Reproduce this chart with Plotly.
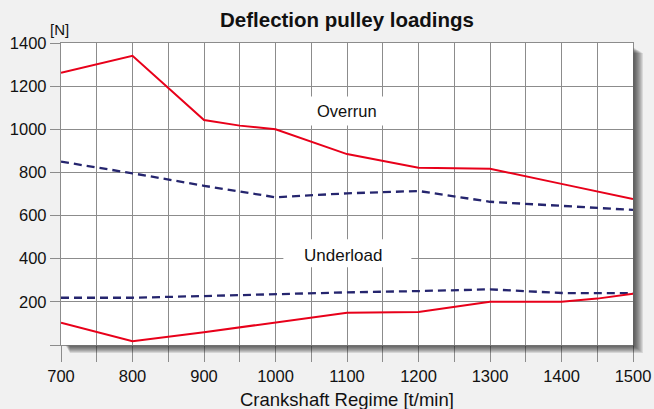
import plotly.graph_objects as go

# Data
overrun_x = [700, 800, 900, 950, 1000, 1100, 1200, 1300, 1400, 1500]
overrun_red = [1262, 1341, 1043, 1017, 1000, 885, 822, 817, 747, 677]
overrun_dash_x = [700, 800, 900, 1000, 1100, 1200, 1300, 1400, 1500]
overrun_dash = [850, 796, 738, 685, 703, 714, 664, 644, 626]
under_dash_x = [700, 800, 900, 1000, 1100, 1200, 1300, 1400, 1500]
under_dash = [219, 219, 227, 236, 244, 250, 258, 241, 240]
under_red_x = [700, 800, 900, 1000, 1100, 1200, 1300, 1400, 1450, 1500]
under_red = [103, 17, 59, 105, 150, 153, 201, 201, 215, 238]

x_ticks = list(range(700, 1501, 50))
x_labels = [str(v) if v % 100 == 0 else "" for v in x_ticks]
y_ticks = list(range(0, 1401, 200))
y_labels = ["" if v == 0 else str(v) for v in y_ticks]

RED = "#e8001a"
NAVY = "#25256e"
GRID = "#8c8c8c"
FONT = "Liberation Sans, Arial, sans-serif"

fig = go.Figure()
fig.add_trace(go.Scatter(x=overrun_x, y=overrun_red, mode="lines",
                         line=dict(color=RED, width=2), showlegend=False))
fig.add_trace(go.Scatter(x=overrun_dash_x, y=overrun_dash, mode="lines",
                         line=dict(color=NAVY, width=2.3, dash="8px,5px"), showlegend=False))
fig.add_trace(go.Scatter(x=under_dash_x, y=under_dash, mode="lines",
                         line=dict(color=NAVY, width=2.3, dash="8px,5px"), showlegend=False))
fig.add_trace(go.Scatter(x=under_red_x, y=under_red, mode="lines",
                         line=dict(color=RED, width=2), showlegend=False))

# plot area in pixels: x 61..633 (572 px), y 43..345 (302 px)
PW, PH = 572.0, 302.0
shapes = []
# drop shadow built from stacked translucent rectangles (darkest near edge)
for k in range(1, 11):
    shapes.append(dict(type="rect", xref="paper", yref="paper",
                       x0=1.0 + 0.7 / PW, x1=1.0 + k / PW,
                       y0=-(k * 0.8) / PH, y1=1.0 - (4 + k * 0.6) / PH,
                       fillcolor="rgba(30,30,30,0.11)", line=dict(width=0), layer="above"))
for k in range(1, 9):
    shapes.append(dict(type="rect", xref="paper", yref="paper",
                       x0=(4 + k * 0.6) / PW, x1=1.0 + 0.7 / PW,
                       y0=-k / PH, y1=-0.7 / PH,
                       fillcolor="rgba(30,30,30,0.13)", line=dict(width=0), layer="above"))
# white label boxes over gridlines
shapes.append(dict(type="rect", xref="x", yref="y", x0=1046, x1=1152, y0=1018, y1=1152,
                   fillcolor="white", line=dict(width=0), layer="between"))
shapes.append(dict(type="rect", xref="x", yref="y", x0=1011, x1=1190, y0=360, y1=490,
                   fillcolor="white", line=dict(width=0), layer="between"))

annotations = [
    dict(x=1100, y=1085, xref="x", yref="y", text="Overrun", showarrow=False,
         font=dict(size=16.5, color="#111", family=FONT)),
    dict(x=1094, y=413, xref="x", yref="y", text="Underload", showarrow=False,
         font=dict(size=17, color="#111", family=FONT)),
    dict(x=-2 / PW, y=1.0 + 13 / PH, xref="paper", yref="paper", text="[N]", showarrow=False,
         xanchor="center", yanchor="middle",
         font=dict(size=15, color="#111", family=FONT)),
    dict(x=0.5, y=1.0 + 23 / PH, xref="paper", yref="paper", text="<b>Deflection pulley loadings</b>",
         showarrow=False, xanchor="center", yanchor="middle",
         font=dict(size=20.5, color="#111", family=FONT)),
    dict(x=0.5, y=-54 / PH, xref="paper", yref="paper", text="Crankshaft Regime [t/min]",
         showarrow=False, xanchor="center", yanchor="middle",
         font=dict(size=18.5, color="#111", family=FONT)),
]

fig.update_layout(
    width=654, height=409,
    margin=dict(l=61, r=21, t=43, b=64),
    paper_bgcolor="#f1f1f1",
    plot_bgcolor="white",
    shapes=shapes,
    annotations=annotations,
    font=dict(family=FONT, color="#111"),
    xaxis=dict(range=[700, 1500], tickvals=x_ticks, ticktext=x_labels, automargin=False,
               showgrid=True, gridcolor=GRID, gridwidth=1.3,
               ticks="outside", ticklen=16, tickcolor=GRID, tickwidth=1.3,
               showline=True, linecolor=GRID, linewidth=1.3, mirror=True,
               zeroline=False, tickfont=dict(size=16.5, color="#111")),
    yaxis=dict(range=[0, 1400], tickvals=y_ticks, ticktext=y_labels, automargin=False,
               showgrid=True, gridcolor=GRID, gridwidth=1.3,
               ticks="outside", ticklen=10, tickcolor=GRID, tickwidth=1.3,
               showline=True, linecolor=GRID, linewidth=1.3, mirror=True,
               zeroline=False, tickfont=dict(size=16.5, color="#111")),
)

fig.write_html("out.html", config={"displayModeBar": False},
               post_script="document.body.style.margin='0';document.body.style.background='#f1f1f1';")
